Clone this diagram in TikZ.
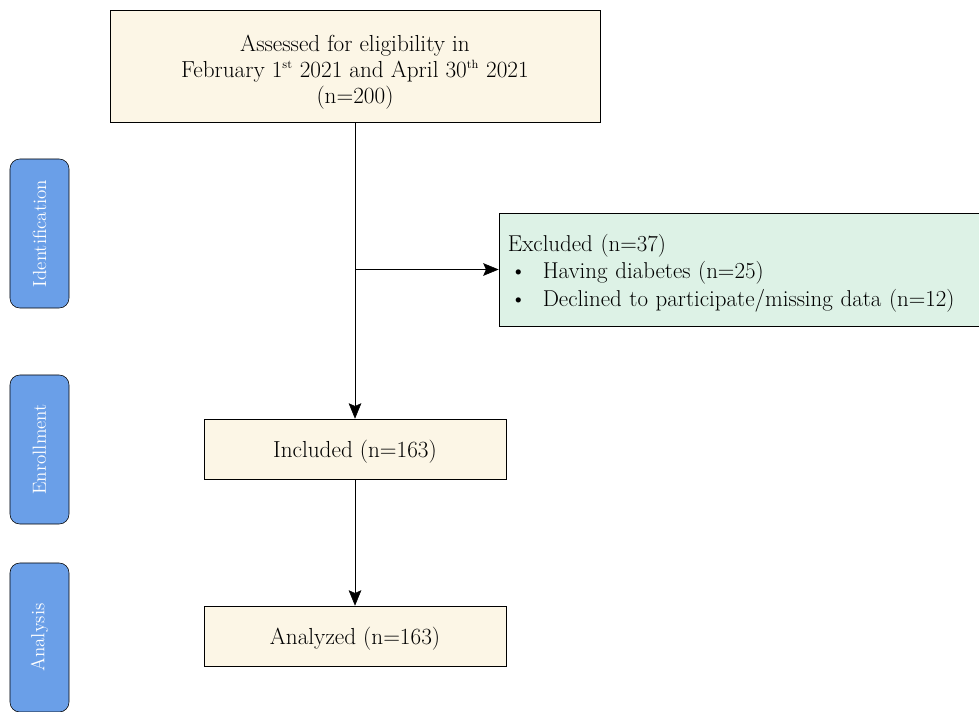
\documentclass[tikz,border=0pt]{standalone}
\usetikzlibrary{arrows.meta,positioning}
\definecolor{boxcream}{HTML}{FCF6E6}
\definecolor{boxmint}{HTML}{DDF2E6}
\definecolor{stageblue}{HTML}{6A9FE8}
\newcommand{\supsmall}[1]{\textsuperscript{\fontsize{8.5}{8.5}\selectfont #1}}
\begin{document}
\begin{tikzpicture}[
        x=0.025cm, y=-0.025cm,
        box/.style={draw, fill=boxcream, minimum width=7.55cm, minimum height=1.5cm,
            align=center, font=\fontsize{16.5}{18.5}\selectfont},
        stage/.style={draw, fill=stageblue, rounded corners=7pt, rotate=90, text=white,
            minimum width=3.725cm, minimum height=1.475cm, font=\fontsize{13.5}{15}\selectfont},
        arr/.style={draw, -{Stealth[length=11pt, width=9pt, inset=2pt]}},
    ]
    \useasboundingbox (0,0) rectangle (979,711);
    % flow boxes
    \node[box, minimum width=12.25cm, minimum height=2.8cm](assess) at (355,66)
        {\rule{0pt}{20pt}Assessed for eligibility in\\
         February 1\supsmall{st} 2021 and April 30\supsmall{th} 2021\\
         (n=200)};
    \node[draw, fill=boxmint, minimum width=12cm, minimum height=2.825cm, text width=11.55cm,
        align=left, font=\fontsize{16.3}{19.5}\selectfont](excl) at (739,269.5)
        {\rule{0pt}{17pt}Excluded (n=37)\\
         \hspace*{0.1em}\textbullet\hspace{0.7em}Having diabetes (n=25)\\
         \hspace*{0.1em}\textbullet\hspace{0.7em}Declined to participate/missing data (n=12)};
    \node[box, text depth=0pt](incl) at (355,449){Included (n=163)};
    \node[box, text depth=0pt](anal) at (355,636){Analyzed (n=163)};
    % stages
    \node[stage](ident) at (39.5,233.5){Identification};
    \node[stage](enrol) at (39.5,449.5){Enrollment};
    \node[stage](analys) at (39.5,637.5){Analysis};
    % arrows
    \coordinate (split) at (355,269.5);
    \draw[arr] (assess) -- (incl);
    \draw[arr] (split) -- (excl.west);
    \draw[arr] (incl) -- (anal);
\end{tikzpicture}
\end{document}
